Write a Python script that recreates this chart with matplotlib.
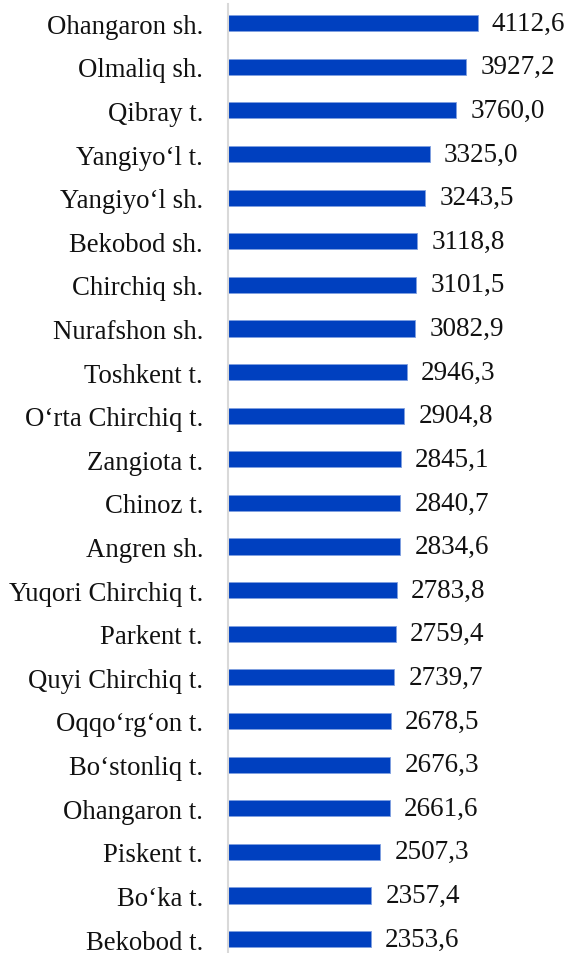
import matplotlib
matplotlib.use("Agg")
import matplotlib.pyplot as plt

categories = ["Ohangaron sh.", "Olmaliq sh.", "Qibray t.", "Yangiyo‘l t.", "Yangiyo‘l sh.",
              "Bekobod sh.", "Chirchiq sh.", "Nurafshon sh.", "Toshkent t.", "O‘rta Chirchiq t.",
              "Zangiota t.", "Chinoz t.", "Angren sh.", "Yuqori Chirchiq t.", "Parkent t.",
              "Quyi Chirchiq t.", "Oqqo‘rg‘on t.", "Bo‘stonliq t.", "Ohangaron t.", "Piskent t.",
              "Bo‘ka t.", "Bekobod t."]
values = [4112.6, 3927.2, 3760.0, 3325.0, 3243.5, 3118.8, 3101.5, 3082.9, 2946.3, 2904.8,
          2845.1, 2840.7, 2834.6, 2783.8, 2759.4, 2739.7, 2678.5, 2676.3, 2661.6, 2507.3,
          2357.4, 2353.6]

plt.rcParams['font.family'] = ['Liberation Serif', 'DejaVu Serif']

fig = plt.figure(figsize=(5.72, 9.54), dpi=100)
ax = fig.add_axes([228/572, 0, 344/572, 1 - 5/954])
pos = list(range(len(categories)))
ax.barh(pos, values, height=0.37, color='#0040BF', edgecolor='#7f9fe0', linewidth=0.6)
for p, v in zip(pos, values):
    ax.text(v + 235, p, f"{v:.1f}".replace('.', ','), va='center', ha='left', fontsize=19.5, color='#111111')
ax.set_yticks(pos)
ax.set_yticklabels(categories, fontsize=19.3, color='#111111')
ax.set_ylim(len(categories) - 1 + 0.32, -0.44)
ax.set_xlim(0, 5667)
ax.set_xticks([])
for s in ['top', 'right', 'bottom']:
    ax.spines[s].set_visible(False)
ax.spines['left'].set_color('#d9d9d9')
ax.spines['left'].set_linewidth(1.5)
ax.tick_params(axis='y', length=0, pad=18)
fig.savefig('out.png', dpi=100)
